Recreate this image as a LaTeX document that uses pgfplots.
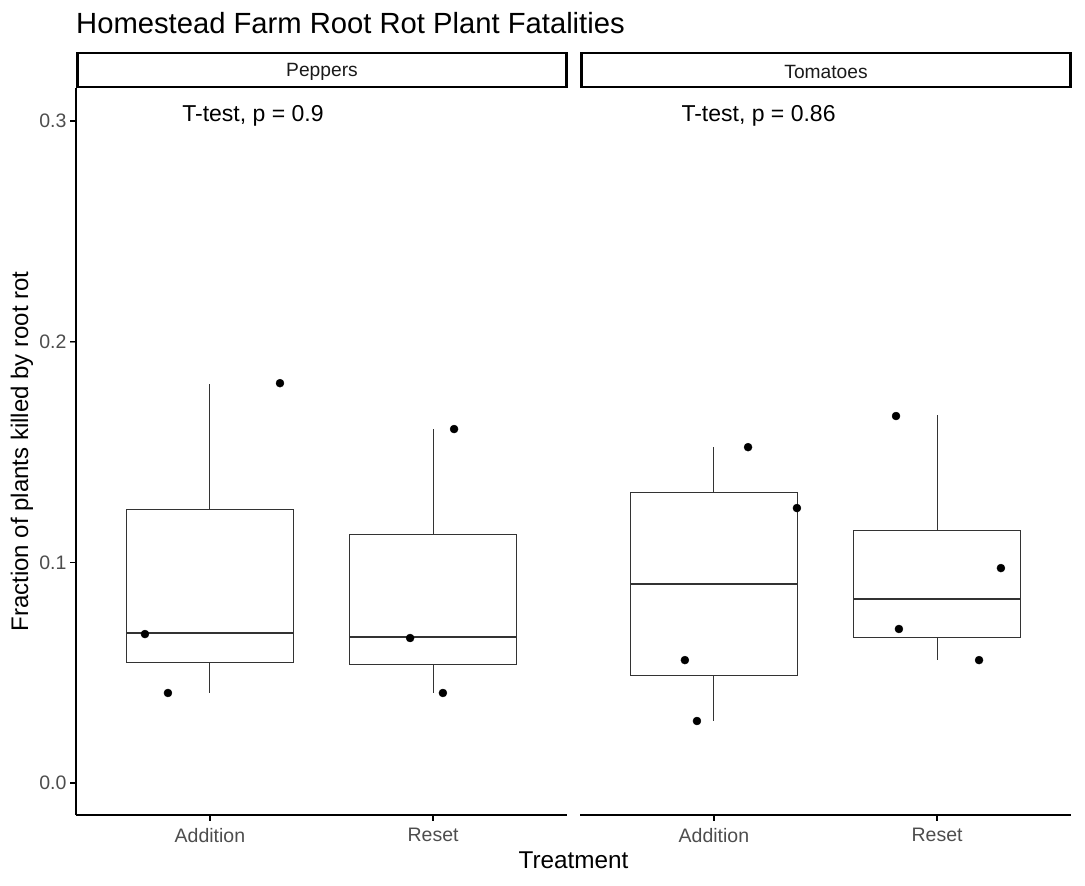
\documentclass[border=0pt]{standalone}
\usepackage{fontspec}
\setmainfont{Liberation Sans}
\usepackage{pgfplots}
\pgfplotsset{compat=1.18}
\usepgfplotslibrary{statistics}
\definecolor{g20}{HTML}{333333}
\definecolor{g30}{HTML}{4D4D4D}
\definecolor{g10}{HTML}{1A1A1A}
\tikzset{tk/.style={draw=black, line width=1.2pt}}
\pgfplotsset{
  panel/.style={
    scale only axis, width=491pt, height=727pt,
    xmin=0.4, xmax=2.6, ymin=-0.0145, ymax=0.31495,
    xtick={1,2}, xticklabels={Addition,Reset},
    axis x line*=bottom,
    tick align=outside, major tick length=6pt,
    axis line style={black, line width=2pt, -},
    tick label style={font=\fontsize{19.5}{22}\selectfont, text=g30},
    xticklabel style={yshift=-4pt},
    /pgf/number format/assume math mode=true,
    clip=false,
  },
  bx/.style={draw=g20, line width=1pt, fill=white, solid, mark=none,
    boxplot/draw direction=y, boxplot/box extend=0.75, boxplot/whisker extend=0,
    boxplot/every median/.style={line width=2pt}},
  pts/.style={only marks, mark=*, mark size=4pt, black, mark options={solid}},
}
\begin{document}
\begin{tikzpicture}
\path[use as bounding box] (0,0) rectangle (1085pt,-886pt);
\begin{axis}[panel, at={(76pt,-815pt)}, anchor=south west,
  axis y line*=left,
  ytick={0,0.1,0.2,0.3},
  yticklabel style={/pgf/number format/.cd, fixed, fixed zerofill, precision=1},
]
\addplot+[bx, boxplot prepared={lower whisker=0.0410, lower quartile=0.0544, median=0.0680, upper quartile=0.1240, upper whisker=0.1810, draw position=1}] coordinates {};
\addplot+[bx, boxplot prepared={lower whisker=0.0410, lower quartile=0.0535, median=0.0662, upper quartile=0.1124, upper whisker=0.1603, draw position=2}] coordinates {};
\addplot[pts] coordinates {(0.709,0.0675) (0.812,0.0408) (1.314,0.1812) (1.897,0.0657) (2.044,0.0408) (2.094,0.1604)};
\node[font=\fontsize{23}{27}\selectfont] at (axis cs:1.193,0.3022) {T-test, p = 0.9};
\draw[tk] (axis cs:1,-0.0145) -- +(0pt,-6pt);
\draw[tk] (axis cs:2,-0.0145) -- +(0pt,-6pt);
\draw[tk] (axis cs:0.4,0) -- +(-6pt,0pt);
\draw[tk] (axis cs:0.4,0.1) -- +(-6pt,0pt);
\draw[tk] (axis cs:0.4,0.2) -- +(-6pt,0pt);
\draw[tk] (axis cs:0.4,0.3) -- +(-6pt,0pt);
\end{axis}
\begin{axis}[panel, at={(580pt,-815pt)}, anchor=south west,
  axis y line=none, ytick=\empty,
]
\addplot+[bx, boxplot prepared={lower whisker=0.0281, lower quartile=0.0486, median=0.0903, upper quartile=0.1316, upper whisker=0.1524, draw position=1}] coordinates {};
\addplot+[bx, boxplot prepared={lower whisker=0.0557, lower quartile=0.0661, median=0.0836, upper quartile=0.1145, upper whisker=0.1668, draw position=2}] coordinates {};
\addplot[pts] coordinates {(0.870,0.0557) (0.924,0.0281) (1.153,0.1522) (1.372,0.1246) (1.829,0.0698) (2.188,0.0557) (2.286,0.0974) (1.816,0.1663)};
\node[font=\fontsize{23}{27}\selectfont] at (axis cs:1.20,0.3022) {T-test, p = 0.86};
\draw[tk] (axis cs:1,-0.0145) -- +(0pt,-6pt);
\draw[tk] (axis cs:2,-0.0145) -- +(0pt,-6pt);
\end{axis}
\draw[line width=2.7pt, fill=white] (77.5pt,-53pt) rectangle (566.5pt,-87pt);
\draw[line width=2.7pt, fill=white] (581.5pt,-53pt) rectangle (1070.5pt,-87pt);
\node[font=\fontsize{19.2}{22}\selectfont, text=g10] at (322pt,-71.5pt) {Peppers};
\node[font=\fontsize{19.2}{22}\selectfont, text=g10] at (826pt,-71.5pt) {Tomatoes};
\node[anchor=base west, font=\fontsize{29.2}{34}\selectfont, inner sep=0pt] at (76pt,-33.5pt) {Homestead Farm Root Rot Plant Fatalities};
\node[font=\fontsize{24.3}{28}\selectfont] at (573.5pt,-860pt) {Treatment};
\node[font=\fontsize{24}{28}\selectfont, rotate=90] at (22pt,-451.5pt) {Fraction of plants killed by root rot};
\end{tikzpicture}
\end{document}
